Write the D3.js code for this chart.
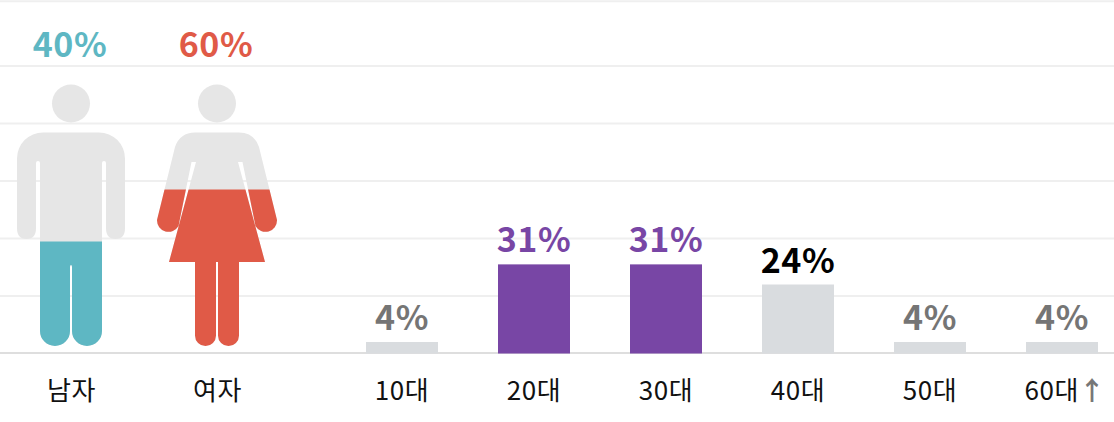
<!DOCTYPE html>
<html>
<head>
<meta charset="utf-8">
<script src="https://d3js.org/d3.v7.min.js"></script>
<style>
    html, body { margin: 0; padding: 0; background: #fff; }
    svg { display: block; }
    text { font-family: "Noto Sans CJK KR", "Noto Sans", sans-serif; }
    .axis path, .axis line { display: none; }
    .axis text { font-size: 26px; font-weight: 400; fill: #111; letter-spacing: 0.5px; }
    .value { font-size: 34px; font-weight: 700; text-anchor: middle; letter-spacing: 0.5px; }
</style>
</head>
<body>
<div id="chart"></div>
<script>
// gender
const genders = ["남자", "여자"];
const genderValues = [40, 60];
const genderColors = ["#5eb7c3", "#e05a47"];

// age groups
const ages = ["10대", "20대", "30대", "40대", "50대", "60대↑"];
const ageValues = [4, 31, 31, 24, 4, 4];
const ageColors = ["#757575", "#7846a5", "#7846a5", "#000000", "#757575", "#757575"];
const ageBarColors = ["#d9dcdf", "#7846a5", "#7846a5", "#d9dcdf", "#d9dcdf", "#d9dcdf"];

// grid lines, in percent
const gridValues = [20, 40, 60, 80, 100, 122.5];

// pictogram outlines, x from the figure centre, y from the top of the figure
const manPath = "M-28,47.5 H28 A26,26 0 0 1 54,73.5 V143 Q54,154 44.5,154 Q35,154 35,143 V78 Q35,76 33,76 Q31,76 31,78 V246 " +
    "A15,15 0 0 1 1,246 V182 Q1,180 0,180 Q-1,180 -1,182 V246 A15,15 0 0 1 -31,246 V78 Q-31,76 -33,76 Q-35,76 -35,78 V143 " +
    "Q-35,154 -44.5,154 Q-54,154 -54,143 V73.5 A26,26 0 0 1 -28,47.5 Z";
const womanPath = "M-22,47.5 H22 Q37,47.5 42,62 L60,135 A11.5,11.5 0 0 1 38.5,141 L25.5,77 H21 L48,177 H22 V250.5 " +
    "A10.5,10.5 0 0 1 1,250.5 V177 H-1 V250.5 A10.5,10.5 0 0 1 -22,250.5 V177 H-48 L-21,77 H-25.5 L-38.5,141 " +
    "A11.5,11.5 0 0 1 -60,135 L-42,62 Q-37,47.5 -22,47.5 Z";
const figurePaths = [manPath, womanPath];

const width = 1114, height = 422;

let svg = d3.select("#chart").append("svg")
    .attr("width", width)
    .attr("height", height);

// scales
let y = d3.scaleLinear().domain([0, 100]).range([353.5, 66]);
let xGender = d3.scalePoint().domain(genders).range([71, 217]);
let xAge = d3.scaleBand().domain(ages).range([366, 1098]).paddingInner(60 / 132).paddingOuter(0);
let figureY = d3.scaleLinear().domain([0, 100]).range([261, 0]);

// grid
svg.selectAll("line.grid")
    .data(gridValues)
    .enter()
    .append("line")
    .attr("class", "grid")
    .attr("x1", 0)
    .attr("x2", width)
    .attr("y1", d => y(d))
    .attr("y2", d => y(d))
    .attr("stroke", "#efefef")
    .attr("stroke-width", 2);

// baseline
svg.append("line")
    .attr("x1", 0)
    .attr("x2", width)
    .attr("y1", 353)
    .attr("y2", 353)
    .attr("stroke", "#dedede")
    .attr("stroke-width", 2);

// pictograms
let figures = svg.selectAll("g.figure")
    .data(genders)
    .enter()
    .append("g")
    .attr("class", "figure")
    .attr("transform", d => "translate(" + xGender(d) + ",85)");

let defs = svg.append("defs");
genders.forEach((g, i) => {
    defs.append("clipPath")
        .attr("id", "fill-" + i)
        .append("rect")
        .attr("x", -80)
        .attr("width", 160)
        .attr("y", figureY(genderValues[i]))
        .attr("height", 261 - figureY(genderValues[i]));
});

figures.append("circle")
    .attr("cy", 18.5)
    .attr("r", 19)
    .attr("fill", "#e6e6e6");

figures.append("path")
    .attr("d", (d, i) => figurePaths[i])
    .attr("fill", "#e6e6e6");

figures.append("path")
    .attr("d", (d, i) => figurePaths[i])
    .attr("fill", (d, i) => genderColors[i])
    .attr("clip-path", (d, i) => "url(#fill-" + i + ")");

svg.selectAll("text.gender-value")
    .data(genders)
    .enter()
    .append("text")
    .attr("class", "value gender-value")
    .attr("x", d => xGender(d) - 1)
    .attr("y", 57)
    .attr("fill", (d, i) => genderColors[i])
    .text((d, i) => genderValues[i] + "%");

// age bars
svg.selectAll("rect.bar")
    .data(ages)
    .enter()
    .append("rect")
    .attr("class", "bar")
    .attr("x", d => xAge(d))
    .attr("y", (d, i) => y(ageValues[i]))
    .attr("width", xAge.bandwidth())
    .attr("height", (d, i) => y(0) - y(ageValues[i]))
    .attr("fill", (d, i) => ageBarColors[i]);

svg.selectAll("text.age-value")
    .data(ages)
    .enter()
    .append("text")
    .attr("class", "value age-value")
    .attr("x", d => xAge(d) + xAge.bandwidth() / 2)
    .attr("y", (d, i) => y(ageValues[i]) - 12)
    .attr("fill", (d, i) => ageColors[i])
    .text((d, i) => ageValues[i] + "%");

// category labels
svg.append("g")
    .attr("class", "axis")
    .attr("transform", "translate(0,400)")
    .call(d3.axisBottom(xGender).tickSize(0).tickPadding(0));

let ageAxis = svg.append("g")
    .attr("class", "axis")
    .attr("transform", "translate(0,400)")
    .call(d3.axisBottom(xAge).tickSize(0).tickPadding(0));

svg.selectAll(".axis text")
    .attr("y", 0)
    .attr("dy", 0);

// the arrow of the last label is grey
ageAxis.selectAll(".tick:last-of-type text")
    .attr("x", 3)
    .text("60대")
    .append("tspan")
    .attr("fill", "#777")
    .attr("font-weight", 700)
    .text("↑");
</script>
</body>
</html>
